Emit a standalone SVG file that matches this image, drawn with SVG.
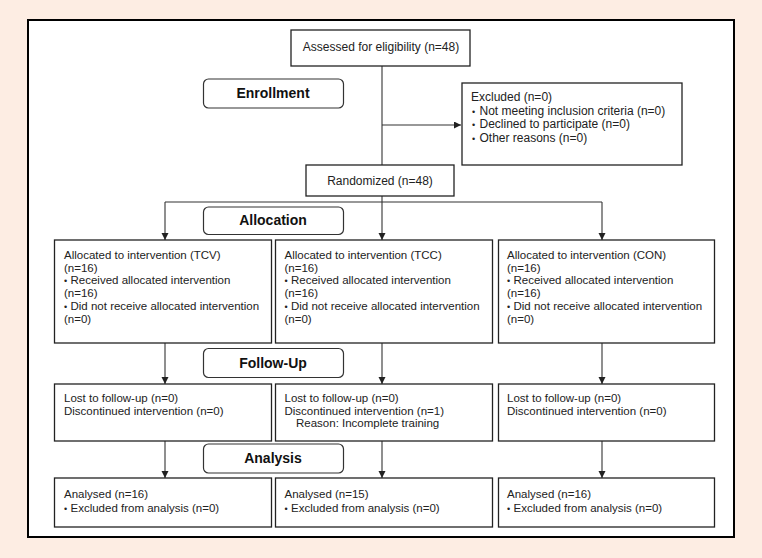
<svg xmlns="http://www.w3.org/2000/svg" width="762" height="558" viewBox="0 0 762 558">
<style>
.box{fill:#fff;stroke:#222;stroke-width:1.3}
.lbl{fill:#fff;stroke:#333;stroke-width:1.2}
.t{font-family:"Liberation Sans",Arial,sans-serif;font-size:12px;fill:#222}
.s{font-family:"Liberation Sans",Arial,sans-serif;font-size:11.5px;fill:#222}
.b{font-family:"Liberation Sans",Arial,sans-serif;font-size:14px;font-weight:bold;fill:#111;text-anchor:middle}
.c{font-family:"Liberation Sans",Arial,sans-serif;font-size:12px;fill:#222;text-anchor:middle}
.ln{fill:none;stroke:#333;stroke-width:1.1}
.bu{font-size:9px}
</style>
<defs>
<marker id="ah" markerUnits="userSpaceOnUse" markerWidth="8" markerHeight="8" refX="7" refY="3.5" orient="auto">
<path d="M0,0 L7,3.5 L0,7 z" fill="#222"/>
</marker>
</defs>
<rect x="0" y="0" width="762" height="558" fill="#fdede3"/>
<rect x="28" y="20" width="706" height="517" fill="#fff" stroke="#000" stroke-width="2"/>

<g id="connectors">
<path class="ln" d="M382,66 V165"/>
<path class="ln" d="M382,125 H461" marker-end="url(#ah)"/>
<path class="ln" d="M382,196 V202"/>
<path class="ln" d="M165,202 H602"/>
<path class="ln" d="M165,202 V240" marker-end="url(#ah)"/>
<path class="ln" d="M382,202 V240" marker-end="url(#ah)"/>
<path class="ln" d="M602,202 V240" marker-end="url(#ah)"/>
<path class="ln" d="M165,343 V384" marker-end="url(#ah)"/>
<path class="ln" d="M382,343 V384" marker-end="url(#ah)"/>
<path class="ln" d="M602,343 V384" marker-end="url(#ah)"/>
<path class="ln" d="M165,441 V478" marker-end="url(#ah)"/>
<path class="ln" d="M382,441 V478" marker-end="url(#ah)"/>
<path class="ln" d="M602,441 V478" marker-end="url(#ah)"/>
</g>

<g id="assessed">
<rect class="box" x="291" y="30" width="179" height="36"/>
<text class="c" x="381" y="51">Assessed for eligibility (n=48)</text>
</g>

<g id="enrollment">
<rect class="lbl" x="203.5" y="79" width="140" height="29" rx="5"/>
<text class="b" x="273" y="98">Enrollment</text>
</g>

<g id="excluded">
<rect class="box" x="462" y="83" width="220" height="82"/>
<text class="t" x="471" y="101">Excluded (n=0)</text>
<text class="t" x="472" y="114.5"><tspan class="bu">•</tspan><tspan x="479.5">Not meeting inclusion criteria (n=0)</tspan></text>
<text class="t" x="472" y="128"><tspan class="bu">•</tspan><tspan x="479.5">Declined to participate (n=0)</tspan></text>
<text class="t" x="472" y="141.5"><tspan class="bu">•</tspan><tspan x="479.5">Other reasons (n=0)</tspan></text>
</g>

<g id="randomized">
<rect class="box" x="306" y="165" width="148" height="31"/>
<text class="c" x="380" y="185">Randomized (n=48)</text>
</g>

<g id="allocation">
<rect class="lbl" x="203.5" y="207" width="140" height="27.5" rx="5"/>
<text class="b" x="273" y="225">Allocation</text>
</g>

<g id="alloc-tcv">
<rect class="box" x="54.5" y="240" width="217" height="103"/>
<text class="s" x="64" y="259">Allocated to intervention (TCV)</text>
<text class="s" x="64" y="271.5">(n=16)</text>
<text class="s" x="64" y="284"><tspan class="bu">•</tspan><tspan x="70.5">Received allocated intervention</tspan></text>
<text class="s" x="64" y="296.5">(n=16)</text>
<text class="s" x="64" y="309.5"><tspan class="bu">•</tspan><tspan x="70.5">Did not receive allocated intervention</tspan></text>
<text class="s" x="64" y="322.5">(n=0)</text>
</g>

<g id="alloc-tcc">
<rect class="box" x="275.5" y="240" width="217" height="103"/>
<text class="s" x="284.5" y="259">Allocated to intervention (TCC)</text>
<text class="s" x="284.5" y="271.5">(n=16)</text>
<text class="s" x="284.5" y="284"><tspan class="bu">•</tspan><tspan x="291">Received allocated intervention</tspan></text>
<text class="s" x="284.5" y="296.5">(n=16)</text>
<text class="s" x="284.5" y="309.5"><tspan class="bu">•</tspan><tspan x="291">Did not receive allocated intervention</tspan></text>
<text class="s" x="284.5" y="322.5">(n=0)</text>
</g>

<g id="alloc-con">
<rect class="box" x="498.5" y="240" width="216" height="103"/>
<text class="s" x="507" y="259">Allocated to intervention (CON)</text>
<text class="s" x="507" y="271.5">(n=16)</text>
<text class="s" x="507" y="284"><tspan class="bu">•</tspan><tspan x="513.5">Received allocated intervention</tspan></text>
<text class="s" x="507" y="296.5">(n=16)</text>
<text class="s" x="507" y="309.5"><tspan class="bu">•</tspan><tspan x="513.5">Did not receive allocated intervention</tspan></text>
<text class="s" x="507" y="322.5">(n=0)</text>
</g>

<g id="followup">
<rect class="lbl" x="203.5" y="348.5" width="140" height="29" rx="5"/>
<text class="b" x="273" y="367.5">Follow-Up</text>
</g>

<g id="fu-tcv">
<rect class="box" x="54.5" y="384" width="217" height="57"/>
<text class="s" x="64" y="401.5">Lost to follow-up (n=0)</text>
<text class="s" x="64" y="414.5">Discontinued intervention (n=0)</text>
</g>

<g id="fu-tcc">
<rect class="box" x="275.5" y="384" width="217" height="57"/>
<text class="s" x="284.5" y="401.5">Lost to follow-up (n=0)</text>
<text class="s" x="284.5" y="414.5">Discontinued intervention (n=1)</text>
<text class="s" x="296" y="427">Reason: Incomplete training</text>
</g>

<g id="fu-con">
<rect class="box" x="498.5" y="384" width="216" height="57"/>
<text class="s" x="507" y="401.5">Lost to follow-up (n=0)</text>
<text class="s" x="507" y="414.5">Discontinued intervention (n=0)</text>
</g>

<g id="analysis">
<rect class="lbl" x="203.5" y="444" width="140" height="29" rx="5"/>
<text class="b" x="273" y="462.5">Analysis</text>
</g>

<g id="an-tcv">
<rect class="box" x="54.5" y="478" width="217" height="49"/>
<text class="s" x="64" y="497.5">Analysed (n=16)</text>
<text class="s" x="64" y="511.5"><tspan class="bu">•</tspan><tspan x="70.5">Excluded from analysis (n=0)</tspan></text>
</g>

<g id="an-tcc">
<rect class="box" x="275.5" y="478" width="217" height="49"/>
<text class="s" x="284.5" y="497.5">Analysed (n=15)</text>
<text class="s" x="284.5" y="511.5"><tspan class="bu">•</tspan><tspan x="291">Excluded from analysis (n=0)</tspan></text>
</g>

<g id="an-con">
<rect class="box" x="498.5" y="478" width="216" height="49"/>
<text class="s" x="507" y="497.5">Analysed (n=16)</text>
<text class="s" x="507" y="511.5"><tspan class="bu">•</tspan><tspan x="513.5">Excluded from analysis (n=0)</tspan></text>
</g>
</svg>
